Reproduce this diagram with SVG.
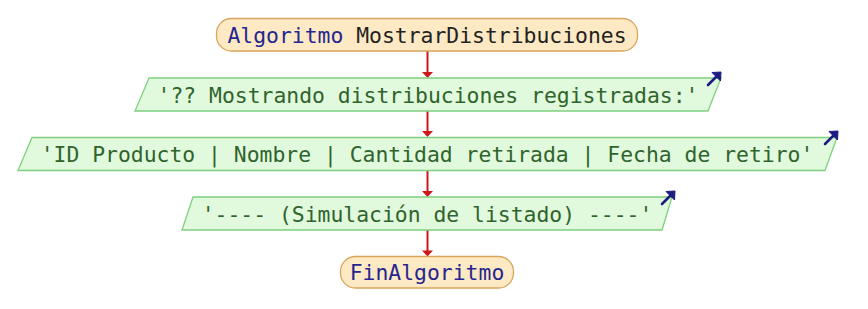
<svg xmlns="http://www.w3.org/2000/svg" width="868" height="309" viewBox="0 0 868 309">
  <style>
    .term { fill: #fde9c4; stroke: #d9a55c; stroke-width: 1.3; }
    .io { fill: #e1f9dc; stroke: #7fd07f; stroke-width: 1.3; }
    .txt { font-family: "DejaVu Sans Mono", "Liberation Mono", monospace; font-size: 21.4px; text-anchor: middle; }
    .kw { fill: #262690; }
    .name { fill: #222222; }
    .str { fill: #2f642c; }
    .flow { stroke: #cc1818; stroke-width: 2; fill: none; }
    .head { fill: #cc1818; }
    .out { stroke: #1c1c82; stroke-width: 2.6; fill: none; stroke-linecap: round; stroke-linejoin: round; }
    .outhead { fill: #1c1c82; stroke: #1c1c82; stroke-width: 1; stroke-linejoin: round; }
  </style>
  <rect width="868" height="309" fill="#ffffff"/>

  <g id="connectors">
    <line class="flow" x1="427.5" y1="51" x2="427.5" y2="73"/>
    <polygon class="head" points="422,72 433,72 427.5,78"/>
    <line class="flow" x1="427.5" y1="111" x2="427.5" y2="132"/>
    <polygon class="head" points="422,131 433,131 427.5,137"/>
    <line class="flow" x1="427.5" y1="171" x2="427.5" y2="192"/>
    <polygon class="head" points="422,191 433,191 427.5,197"/>
    <line class="flow" x1="427.5" y1="230" x2="427.5" y2="251"/>
    <polygon class="head" points="422,250.5 433,250.5 427.5,256.5"/>
  </g>

  <g id="start">
    <rect class="term" x="216.5" y="18.5" width="421" height="32.5" rx="15"/>
    <text class="txt" x="427" y="42.5"><tspan class="kw">Algoritmo</tspan><tspan class="name"> MostrarDistribuciones</tspan></text>
  </g>

  <g id="out1">
    <polygon class="io" points="149,78 721,78 708,111 135,111"/>
    <text class="txt str" x="428" y="103">'?? Mostrando distribuciones registradas:'</text>
    <path class="out" d="M708,85 L718,75"/>
    <polygon class="outhead" points="721,72 712,72.5 720.5,81"/>
  </g>

  <g id="out2">
    <polygon class="io" points="32,137.5 837,137.5 825,170.5 18,170.5"/>
    <text class="txt str" x="427" y="162">'ID Producto | Nombre | Cantidad retirada | Fecha de retiro'</text>
    <path class="out" d="M825,144 L835,134"/>
    <polygon class="outhead" points="838,131 829,131.5 837.5,140"/>
  </g>

  <g id="out3">
    <polygon class="io" points="193,197 672,197 662,230 182,230"/>
    <text class="txt str" x="427" y="221.5">'---- (Simulación de listado) ----'</text>
    <path class="out" d="M662,204 L672,194"/>
    <polygon class="outhead" points="675,191 666,191.5 674.5,200"/>
  </g>

  <g id="end">
    <rect class="term" x="340.5" y="256.5" width="173" height="31.5" rx="15"/>
    <text class="txt kw" x="427" y="280">FinAlgoritmo</text>
  </g>
</svg>
